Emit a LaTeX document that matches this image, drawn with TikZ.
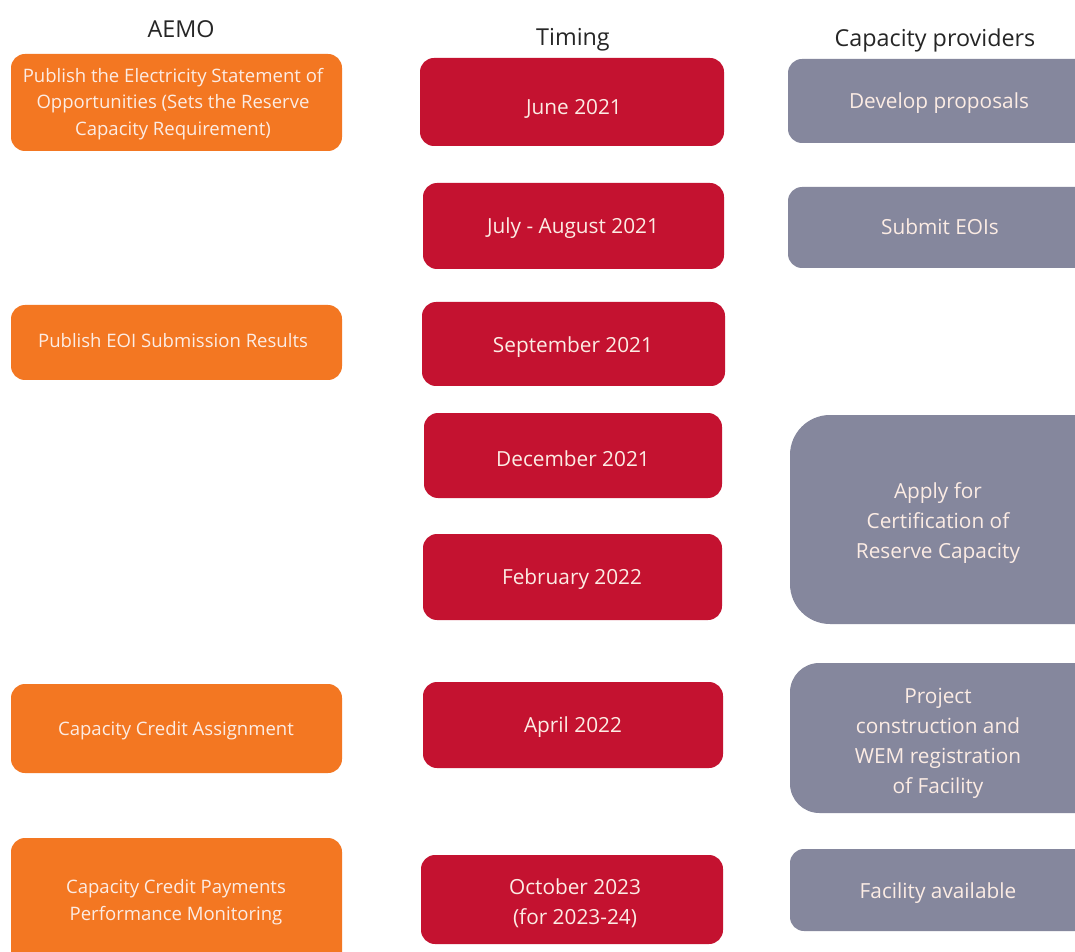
\documentclass[tikz,border=0pt]{standalone}
\usepackage{fontspec}
\setmainfont{Open Sans}
\definecolor{aemo}{RGB}{243,119,34}
\definecolor{timing}{RGB}{196,18,48}
\definecolor{prov}{RGB}{133,135,157}
\definecolor{hdr}{RGB}{38,38,38}
\definecolor{txtw}{RGB}{252,236,228}
\begin{document}
\begin{tikzpicture}[x=0.75pt,y=-0.75pt,
  hdrtext/.style={text=hdr,font=\fontsize{17.5}{21}\selectfont,anchor=center},
  orangebox/.style={fill=aemo,draw=none,rounded corners=10.5pt},
  redbox/.style={fill=timing,draw=none,rounded corners=10.5pt},
  graybox/.style={fill=prov,draw=none,rounded corners=10.5pt},
  otext/.style={text=txtw,align=center,font=\fontsize{13.9}{20}\selectfont},
  rtext/.style={text=txtw,align=center,font=\fontsize{15.6}{22.5}\selectfont},
  gtext/.style={text=txtw,align=center,font=\fontsize{15.6}{22.5}\selectfont}]
\clip (0,0) rectangle (1075,952);
\fill[white] (0,0) rectangle (1075,952);
% headers
\node[hdrtext] (hA) at (181,29) {AEMO};
\node[hdrtext] (hT) at (573,40) {Timing};
\node[hdrtext] (hC) at (935,40) {Capacity providers};
% AEMO boxes
\fill[orangebox] (11,54) rectangle (342,151);
\node[otext] (a1) at (173,104) {Publish the Electricity Statement of\\Opportunities (Sets the Reserve\\Capacity Requirement)};
\fill[orangebox] (11,305) rectangle (342,380);
\node[otext] (a2) at (173,341) {Publish EOI Submission Results};
\fill[orangebox] (11,684) rectangle (342,773);
\node[otext] (a3) at (176,731) {Capacity Credit Assignment};
\fill[orangebox] (11,838) rectangle (342,975);
\node[otext] (a4) at (176,902) {Capacity Credit Payments\\Performance Monitoring};
% Timing boxes
\fill[redbox] (420,58) rectangle (724,146);
\node[rtext] (t1) at (574,109) {June 2021};
\fill[redbox] (423,183) rectangle (724,269);
\node[rtext] (t2) at (573,228) {July - August 2021};
\fill[redbox] (422,302) rectangle (725,386);
\node[rtext] (t3) at (573,347) {September 2021};
\fill[redbox] (424,413) rectangle (722,498);
\node[rtext] (t4) at (573,459) {December 2021};
\fill[redbox] (423,534) rectangle (722,620);
\node[rtext] (t5) at (572,579) {February 2022};
\fill[redbox] (423,682) rectangle (723,768);
\node[rtext] (t6) at (573,727) {April 2022};
\fill[redbox] (421,855) rectangle (723,944);
\node[rtext] (t7) at (575,903) {October 2023\\(for 2023-24)};
% Provider boxes
\fill[graybox] (788,59) rectangle (1120,143);
\node[gtext] (p1) at (939,103) {Develop proposals};
\fill[graybox] (788,187) rectangle (1120,268);
\node[gtext] (p2) at (940,227) {Submit EOIs};
\fill[prov,rounded corners=30pt] (790,415) rectangle (1120,624);
\node[gtext] (p3) at (938,523) {Apply for\\Certification of\\Reserve Capacity};
\fill[prov,rounded corners=22pt] (790,663) rectangle (1120,813);
\node[gtext] (p4) at (938,743) {Project\\construction and\\WEM registration\\of Facility};
\fill[graybox] (790,849) rectangle (1120,931);
\node[gtext] (p5) at (938,893) {Facility available};
\end{tikzpicture}
\end{document}
